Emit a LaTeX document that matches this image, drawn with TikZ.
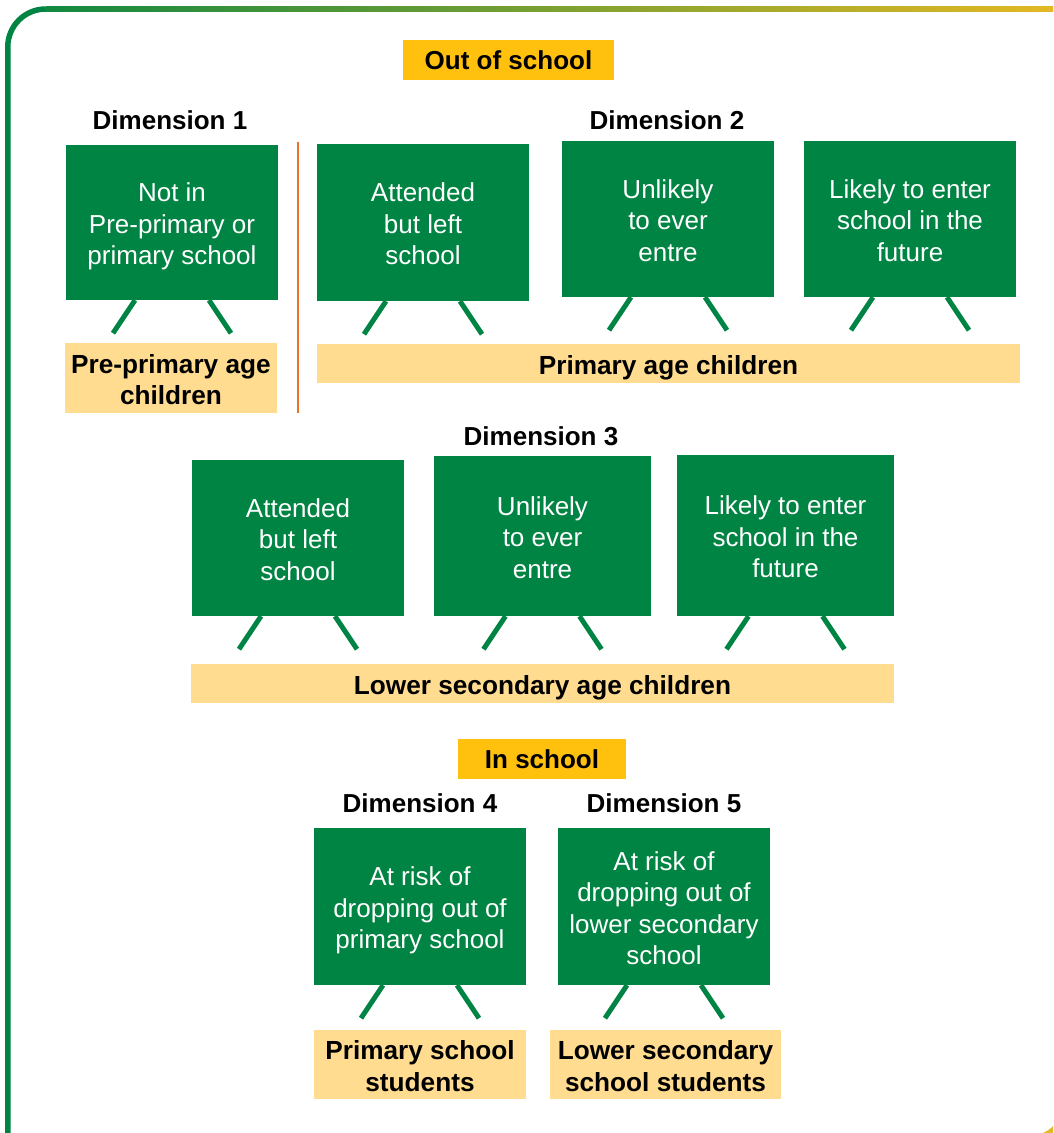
\documentclass[tikz,border=0pt]{standalone}
\usepackage{fontspec}
\setmainfont{Liberation Sans}
\definecolor{brdgreen}{RGB}{0,132,67}
\definecolor{frameyellow}{RGB}{228,184,35}
\definecolor{hdrorange}{RGB}{255,192,14}
\definecolor{lblpeach}{RGB}{255,220,143}
\definecolor{sepline}{RGB}{240,112,40}
\newcommand\tsT{\rule{0pt}{30pt}}
\newcommand\tsB{\rule[-8.4pt]{0pt}{8.4pt}}
\tikzset{
  board/.style={fill=brdgreen, text=white, minimum width=212pt, minimum height=156pt, align=center, inner sep=0pt, font=\fontsize{26}{31.5}\selectfont},
  lbl/.style={fill=lblpeach, text=black, align=center, inner sep=0pt, font=\fontsize{26.2}{31.5}\selectfont\bfseries},
  hdr/.style={fill=hdrorange, text=black, inner sep=0pt, minimum height=40pt, font=\fontsize{26}{31}\selectfont\bfseries},
  dimtxt/.style={text=black, inner sep=0pt, font=\fontsize{26}{31}\selectfont\bfseries},
  leg/.style={draw=brdgreen, line width=5pt},
  framepart/.style={line width=5.5pt}
}
\begin{document}
\begin{tikzpicture}[x=1pt,y=-1pt]
\useasboundingbox (0,0) rectangle (1053,1133);
% frame
\coordinate (fTL) at (7.75,9);
\coordinate (fA) at (7.75,47);
\coordinate (fB) at (45.75,9);
\draw[brdgreen, framepart] (7.75,1140) -- (fA) arc[start angle=180, end angle=90, radius=38pt];
\shade[left color=brdgreen!92!frameyellow, right color=frameyellow] (45.5,6.25) rectangle (1053,11.75);
\fill[frameyellow] (1043,1133) .. controls (1047,1131) and (1050.5,1129) .. (1053,1126) -- (1053,1133) -- cycle;

% headers
\node[hdr, minimum width=211pt] (oos) at (508.5,60) {Out of school};
\node[hdr, minimum width=168pt] (ins) at (542,759) {In school};

% dimension titles
\node[dimtxt] (d1) at (170,120) {Dimension 1};
\node[dimtxt] (d2) at (667,120) {Dimension 2};
\node[dimtxt] (d3) at (541,436) {Dimension 3};
\node[dimtxt] (d4) at (420,803) {Dimension 4};
\node[dimtxt] (d5) at (664,803) {Dimension 5};

% separator
\coordinate (sepT) at (298,142);
\coordinate (sepB) at (298,413);
\draw[sepline, line width=2pt] (sepT) -- (sepB);

% boards
\node[board, minimum height=155pt] (b1) at (172,222.5) {\tsT Not in\\Pre-primary or\\primary school\tsB};
\node[board, minimum height=157pt] (b2a) at (423,222.5) {\tsT Attended\\but left\\school\tsB};
\node[board] (b2b) at (668,219) {\tsT Unlikely\\to ever\\entre\tsB};
\node[board] (b2c) at (910,219) {\tsT Likely to enter\\school in the\\future\tsB};
\node[board] (b3a) at (298,538) {\tsT Attended\\but left\\school\tsB};
\node[board, minimum width=217pt, minimum height=160pt] (b3b) at (542.5,536) {\tsT Unlikely\\to ever\\entre\tsB};
\node[board, minimum width=217pt, minimum height=161pt] (b3c) at (785.5,535.5) {\tsT Likely to enter\\school in the\\future\tsB};
\node[board, minimum height=157pt] (b4) at (420,906.5) {\tsT At risk of\\dropping out of\\primary school\tsB};
\node[board, minimum height=157pt] (b5) at (664,906.5) {\tsT At risk of\\dropping out of\\lower secondary\\school\tsB};

% legs
\foreach \b in {b1,b2a,b2b,b2c,b3a,b3b,b3c,b4,b5}{
  \draw[leg] ([xshift=-37pt]\b.south) -- ++(-22,33);
  \draw[leg] ([xshift=37pt]\b.south) -- ++(22,33);
}

% labels
\node[lbl, minimum width=212pt, minimum height=70pt] (l1) at (171,378) {\tsT Pre-primary age\\children\tsB};
\node[lbl, minimum width=703pt, minimum height=39pt] (l2) at (668.5,363.5) {\tsT Primary age children\tsB};
\node[lbl, minimum width=703pt, minimum height=39pt] (l3) at (542.5,683.5) {\tsT Lower secondary age children\tsB};
\node[lbl, minimum width=212pt, minimum height=69pt] (l4) at (420,1064.5) {\tsT Primary school\\students\tsB};
\node[lbl, minimum width=231pt, minimum height=69pt] (l5) at (665.5,1064.5) {\tsT Lower secondary\\school students\tsB};
\end{tikzpicture}
\end{document}
